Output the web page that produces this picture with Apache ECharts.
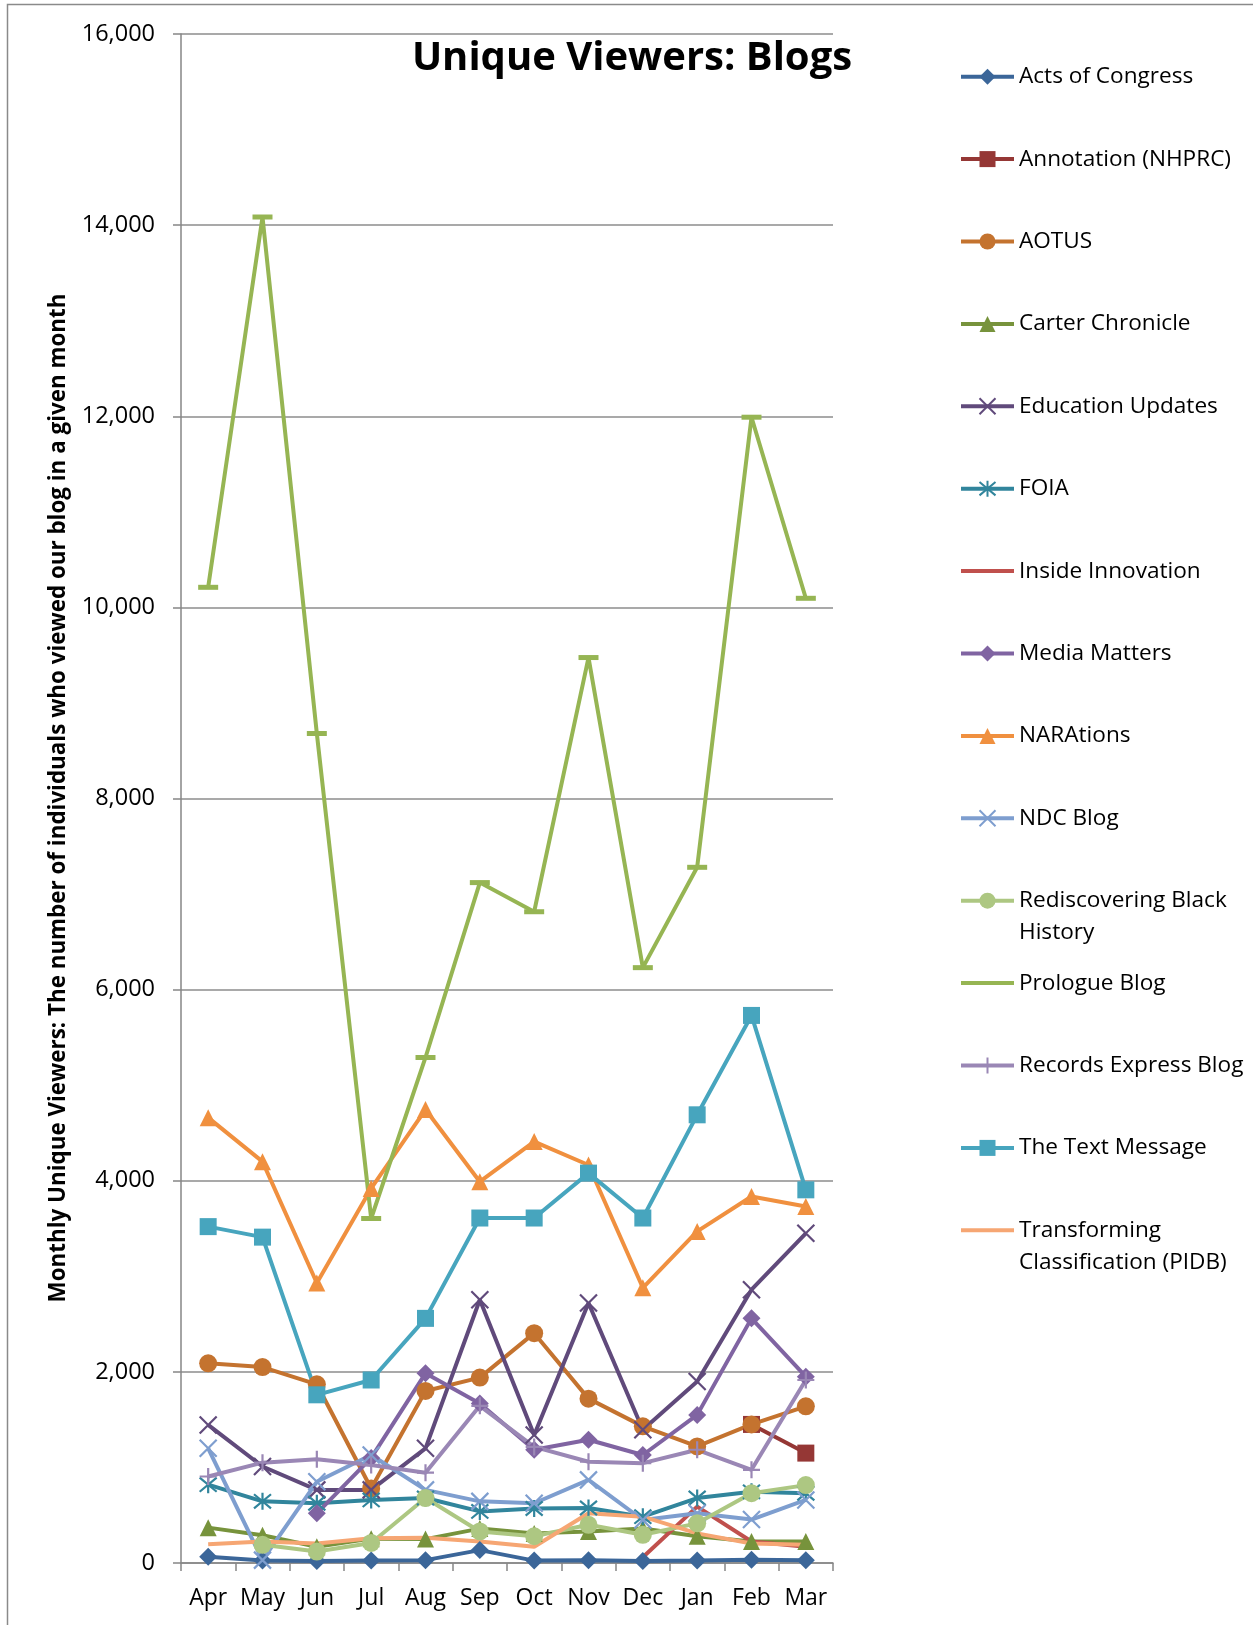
<!DOCTYPE html>
<html>
<head>
<meta charset="utf-8">
<script src="https://cdn.jsdelivr.net/npm/echarts@6/dist/echarts.min.js"></script>
<style>
html,body{margin:0;padding:0;background:#fff;}
#chart{width:1253px;height:1625px;}
</style>
</head>
<body>
<div id="chart"></div>
<script>
// ---- data ----
const months = ['Apr','May','Jun','Jul','Aug','Sep','Oct','Nov','Dec','Jan','Feb','Mar'];
const yTicks = [0, 2000, 4000, 6000, 8000, 10000, 12000, 14000, 16000];
const seriesNames = ['Acts of Congress','Annotation (NHPRC)','AOTUS','Carter Chronicle','Education Updates','FOIA','Inside Innovation','Media Matters','NARAtions','NDC Blog','Rediscovering Black History','Prologue Blog','Records Express Blog','The Text Message','Transforming Classification (PIDB)'];

const actsOfCongress   = [65, 25, 20, 25, 30, 135, 25, 30, 20, 25, 35, 30];
const annotation       = [null, null, null, null, null, null, null, null, null, null, 1450, 1150];
const aotus            = [2090, 2050, 1870, 780, 1800, 1940, 2405, 1720, 1430, 1220, 1450, 1640];
const carterChronicle  = [370, 290, 170, 255, 250, 360, 310, 330, 360, 280, 225, 225];
const educationUpdates = [1445, 1010, 765, 765, 1200, 2755, 1340, 2720, 1395, 1900, 2860, 3450];
const foia             = [820, 645, 625, 660, 680, 540, 570, 575, 485, 680, 745, 730];
const insideInnovation = [null, null, null, null, null, null, null, null, 60, 590, 225, 170];
const mediaMatters     = [null, null, 520, 1100, 1985, 1670, 1185, 1290, 1130, 1550, 2560, 1950];
const narations        = [4660, 4200, 2930, 3920, 4745, 3990, 4410, 4165, 2880, 3470, 3835, 3730];
const ndcBlog          = [1200, 30, 850, 1130, 765, 645, 625, 870, 450, 520, 455, 660];
const rediscovering    = [null, 190, 120, 210, 680, 330, 280, 400, 295, 415, 730, 815];
const prologueBlog     = [10210, 14085, 8680, 3605, 5290, 7120, 6815, 9475, 6230, 7280, 11990, 10095];
const recordsExpress   = [905, 1050, 1085, 1025, 945, 1645, 1215, 1060, 1045, 1185, 975, 1915];
const textMessage      = [3520, 3410, 1760, 1915, 2560, 3610, 3610, 4080, 3610, 4690, 5730, 3905];
const transforming     = [195, 225, 205, 260, 265, 225, 170, 520, 485, 310, 205, 190];

const seriesData = [actsOfCongress, annotation, aotus, carterChronicle, educationUpdates, foia, insideInnovation, mediaMatters, narations, ndcBlog, rediscovering, prologueBlog, recordsExpress, textMessage, transforming];

// ---- styles ----
const colors = ['#3B6699','#953735','#C4732F','#77933C','#604A7B','#31859C','#C0504D','#8064A2','#F0903F','#7E9ECF','#ADC782','#96B553','#9A87B5','#47A5BE','#F6A673'];
const SYM_X = 'path://M0,0L10,10M10,0L0,10';
const SYM_AST = 'path://M0,0L10,10M10,0L0,10M5,-1L5,11';
const SYM_PLUS = 'path://M5,0L5,10M0,5L10,5';
const markers = [
  {symbol:'diamond', size:18},
  {symbol:'rect', size:17},
  {symbol:'circle', size:18},
  {symbol:'triangle', size:17},
  {symbol:SYM_X, size:17, stroke:true},
  {symbol:SYM_AST, size:17, stroke:true},
  {symbol:'none', size:0, noLegendSymbol:true},
  {symbol:'diamond', size:18},
  {symbol:'triangle', size:17},
  {symbol:SYM_X, size:17, stroke:true},
  {symbol:'circle', size:18},
  {symbol:'rect', size:[20,5], noLegendSymbol:true},
  {symbol:SYM_PLUS, size:17, stroke:true},
  {symbol:'rect', size:17},
  {symbol:'none', size:0, noLegendSymbol:true}
];
const FONT = "'Open Sans', 'Noto Sans', sans-serif";

const series = seriesNames.map((name, i) => {
  const m = markers[i];
  return {
    name: name,
    type: 'line',
    data: seriesData[i],
    symbol: m.symbol,
    symbolSize: m.size,
    showSymbol: m.symbol !== 'none',
    showAllSymbol: true,
    connectNulls: false,
    lineStyle: {color: colors[i], width: 4},
    itemStyle: m.stroke ? {color: 'rgba(0,0,0,0)', borderColor: colors[i], borderWidth: 2.2}
                        : {color: colors[i], borderWidth: 0},
    emphasis: {disabled: true},
    z: 2
  };
});

// one legend per entry so rows sit on a fixed pitch
const legendTop0 = 76.7, legendPitch = 82.4, lh = 32;
const legendLabels = {
  'Rediscovering Black History': '\nRediscovering Black\nHistory',
  'Transforming Classification (PIDB)': '\nTransforming\nClassification (PIDB)'
};
const legends = seriesNames.map((name, i) => {
  const lines = legendLabels[name] ? 3 : 1;
  const item = {name: name};
  if (markers[i].noLegendSymbol) {
    item.itemStyle = {color: 'rgba(0,0,0,0)', borderColor: 'rgba(0,0,0,0)', borderWidth: 0};
  }
  return {
    orient: 'vertical',
    left: 959,
    top: legendTop0 + legendPitch * i - lines * lh / 2,
    padding: 0,
    itemWidth: 53,
    itemHeight: 20,
    itemGap: 0,
    selectedMode: false,
    data: [item],
    lineStyle: {width: 4},
    formatter: n => legendLabels[n] || n,
    textStyle: {fontFamily: FONT, fontSize: 22.6, color: '#000', lineHeight: lh, padding: [0,0,0,0]}
  };
});

const chart = echarts.init(document.getElementById('chart'), null, {renderer: 'canvas'});
chart.setOption({
  animation: false,
  backgroundColor: '#fff',
  textStyle: {fontFamily: FONT},
  grid: {left: 181, right: 420, top: 34, bottom: 62, containLabel: false},
  legend: legends,
  xAxis: {
    type: 'category',
    data: months,
    boundaryGap: true,
    axisLine: {show: true, lineStyle: {color: '#868686', width: 1.5}},
    axisTick: {show: true, length: 8, lineStyle: {color: '#868686', width: 1.5}},
    axisLabel: {color: '#000', fontSize: 23, fontFamily: FONT, margin: 24, interval: 0},
    splitLine: {show: false}
  },
  yAxis: {
    type: 'value',
    min: yTicks[0],
    max: yTicks[yTicks.length - 1],
    interval: yTicks[1] - yTicks[0],
    axisLine: {show: true, lineStyle: {color: '#868686', width: 1.5}},
    axisTick: {show: true, length: 8, lineStyle: {color: '#868686', width: 1.5}},
    axisLabel: {color: '#000', fontSize: 23.5, fontFamily: FONT, margin: 26,
      formatter: v => v.toLocaleString('en-US')},
    splitLine: {show: true, lineStyle: {color: '#8c8c8c', width: 1.5}}
  },
  graphic: [
    {type: 'rect', z: -10, shape: {x: 7.5, y: 4.5, width: 1400, height: 1800},
     style: {fill: 'none', stroke: '#8a8a8a', lineWidth: 1.5}, silent: true},
    {type: 'text', x: 632, y: 59, z: 10,
     style: {text: 'Unique Viewers: Blogs', font: "bold 40px 'Open Sans', sans-serif",
             fill: '#000', textAlign: 'center', textVerticalAlign: 'middle'}},
    {type: 'text', x: 58.5, y: 798, rotation: Math.PI / 2, z: 10,
     style: {text: 'Monthly Unique Viewers: The number of individuals who viewed our blog in a given month',
             font: "bold 22.4px 'Open Sans', sans-serif", fill: '#000',
             textAlign: 'center', textVerticalAlign: 'middle'}}
  ],
  series: series
});
</script>
</body>
</html>
